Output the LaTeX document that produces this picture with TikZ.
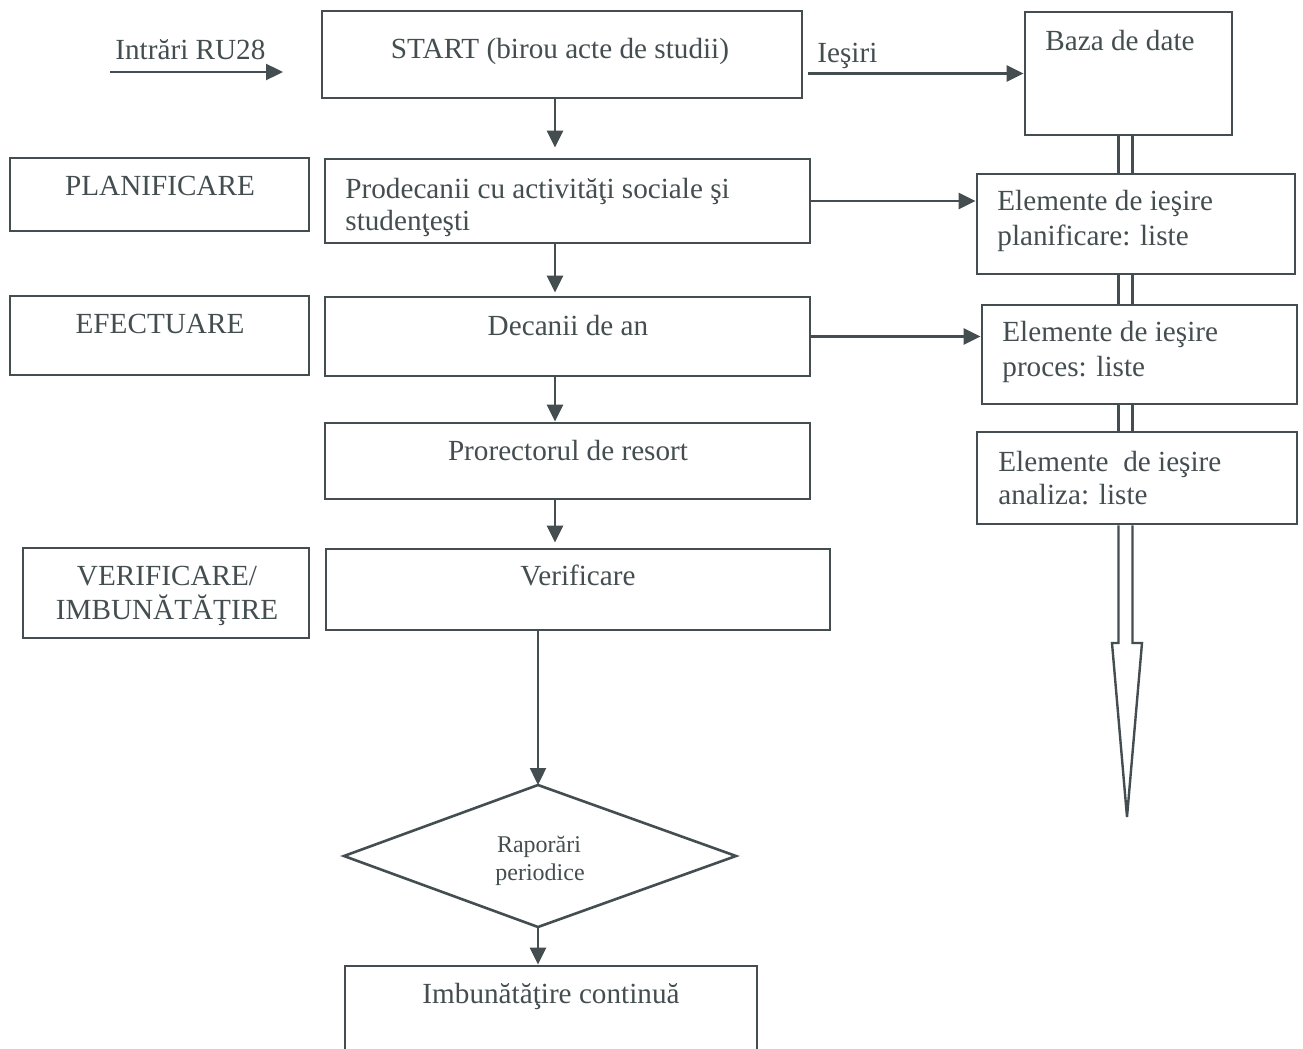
\documentclass[tikz,border=0pt]{standalone}
\usepackage{fontspec}
\setmainfont{Liberation Serif}
\usetikzlibrary{arrows.meta,calc}
\definecolor{ink}{RGB}{68,78,80}
\begin{document}
\begin{tikzpicture}[x=0.5pt,y=-0.5pt,
  box/.style={draw=ink,line width=1.4pt,rectangle,inner sep=0pt},
  lbl/.style={text=ink,font=\fontsize{14.6}{17}\selectfont,inner sep=0pt},
  lblL/.style={lbl,anchor=base west},
  lblC/.style={lbl,anchor=base},
  small/.style={text=ink,font=\fontsize{12}{14}\selectfont,inner sep=0pt,anchor=base},
  arr/.style={draw=ink,line width=1.2pt,-{Triangle[length=8.5pt,width=8pt]}},
  ln/.style={draw=ink,line width=1.2pt}]
\useasboundingbox (0,0) rectangle (1303,1049);
\clip (0,0) rectangle (1303,1049);
\fill[white] (0,0) rectangle (1303,1049);

% boxes
\node[box,minimum width=240pt,minimum height=43.5pt] (start) at (562,54.5) {};
\node[box,minimum width=103.5pt,minimum height=61.5pt] (baza) at (1128.5,73.5) {};
\node[box,minimum width=149.5pt,minimum height=36.5pt] (plan) at (159.5,194.5) {};
\node[box,minimum width=242.5pt,minimum height=42pt] (prod) at (567.5,201) {};
\node[box,minimum width=159pt,minimum height=50pt] (eplan) at (1136,224) {};
\node[box,minimum width=149.5pt,minimum height=39.5pt] (efect) at (159.5,335.5) {};
\node[box,minimum width=242.5pt,minimum height=39.5pt] (decan) at (567.5,336.5) {};
\node[box,minimum width=157.5pt,minimum height=49.5pt] (eproc) at (1139.5,354.5) {};
\node[box,minimum width=242.5pt,minimum height=38pt] (prorec) at (567.5,461) {};
\node[box,minimum width=160pt,minimum height=46pt] (eanal) at (1137,478) {};
\node[box,minimum width=143pt,minimum height=45pt] (verl) at (166,593) {};
\node[box,minimum width=252pt,minimum height=40.5pt] (verif) at (578,589.5) {};
\node[box,minimum width=206pt,minimum height=57pt] (imb) at (551,1023) {};

% diamond
\coordinate (dT) at (538,785);
\coordinate (dR) at (736,856);
\coordinate (dB) at (538,927);
\coordinate (dL) at (344,856);
\draw[ln,line width=1.3pt,line join=miter] (dT) -- (dR) -- (dB) -- (dL) -- cycle;

% texts
\node[lblL] (tin) at (115,60) {Intrări RU28};
\node[lblL] (tout) at (817,62) {Ieşiri};
\node[lblC] (tstart) at (560,58) {START (birou acte de studii)};
\node[lblL] (tbaza) at (1045,50) {Baza de date};
\node[lblC] (tplan) at (160,195) {PLANIFICARE};
\node[lblL] (tprod1) at (345,198) {Prodecanii cu activităţi sociale şi};
\node[lblL] (tprod2) at (345,230) {studenţeşti};
\node[lblL] (tep1) at (997,210) {Elemente de ieşire};
\node[lblL] (tep2) at (997,245) {planificare: liste};
\node[lblC] (tefect) at (160,333) {EFECTUARE};
\node[lblC] (tdec) at (568,335) {Decanii de an};
\node[lblL] (tpr1) at (1002,341) {Elemente de ieşire};
\node[lblL] (tpr2) at (1002,376) {proces: liste};
\node[lblC] (tprr) at (568,460) {Prorectorul de resort};
\node[lblL] (tan1) at (998,471) {Elemente\ \ de ieşire};
\node[lblL] (tan2) at (998,504) {analiza: liste};
\node[lblC] (tvl1) at (167,585) {VERIFICARE/};
\node[lblC] (tvl2) at (167,619) {IMBUNĂTĂŢIRE};
\node[lblC] (tver) at (578,585) {Verificare};
\node[small] (tr1) at (539,852) {Raporări};
\node[small] (tr2) at (540,880) {periodice};
\node[lblC] (timb) at (551,1003) {Imbunătăţire continuă};

% arrows
\coordinate (inS) at (110,72);
\coordinate (inE) at (283,72);
\draw[arr] (inS) -- (inE);
\draw[arr] ($(start.east|-baza.west)+(5,0)$) -- (baza.west);
\coordinate (ax) at (555,0);
\draw[arr,shorten >=5pt] (start.south -| ax) -- (prod.north -| ax);
\draw[arr,shorten >=1.5pt] (prod.south -| ax) -- (decan.north -| ax);
\draw[arr] (decan.south -| ax) -- (prorec.north -| ax);
\draw[arr,shorten >=2.5pt] (prorec.south -| ax) -- (verif.north -| ax);
\draw[arr] (verif.south -| dT) -- (dT);
\draw[arr] (dB) -- (imb.north -| dB);
\draw[arr] (prod.east) -- (prod.east -| eplan.west);
\draw[arr] (decan.east) -- (decan.east -| eproc.west);

% double shaft and hollow arrow
\coordinate (sL) at (1118.5,0);
\coordinate (sR) at (1132.5,0);
\foreach \a/\b in {baza/eplan,eplan/eproc,eproc/eanal}{
  \draw[ln] (\a.south -| sL) -- (\b.north -| sL);
  \draw[ln] (\a.south -| sR) -- (\b.north -| sR);
}
\coordinate (hL) at (1118.5,643);
\coordinate (hR) at (1132.5,643);
\coordinate (bL) at (1112,643);
\coordinate (bR) at (1142,643);
\coordinate (tip) at (1127,817);
\draw[ln,line join=miter] (eanal.south -| sL) -- (hL) -- (bL) -- (tip) -- (bR) -- (hR) -- (eanal.south -| sR);
\end{tikzpicture}
\end{document}
